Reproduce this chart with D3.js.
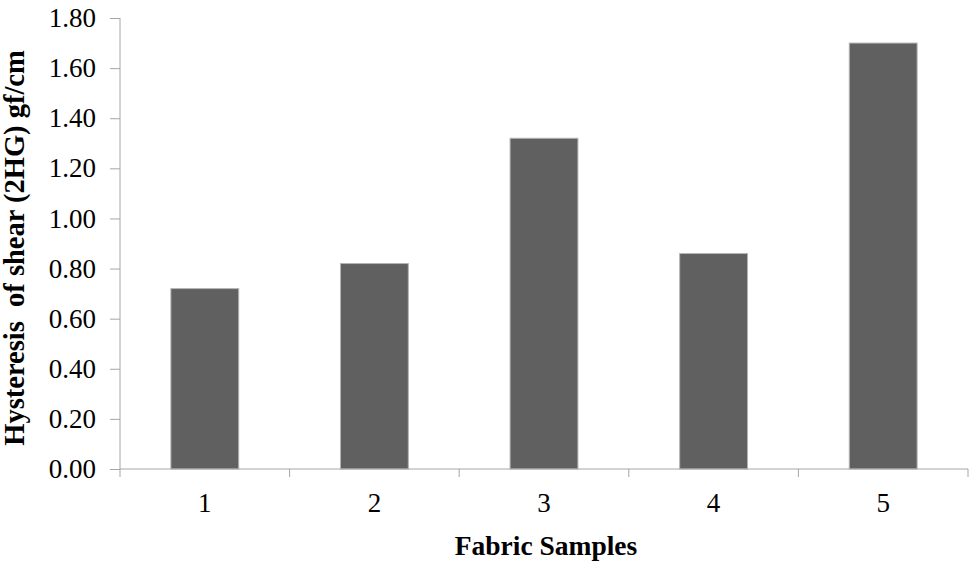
<!DOCTYPE html>
<html>
<head>
<meta charset="utf-8">
<script src="https://cdn.jsdelivr.net/npm/d3@7"></script>
<style>
  body { margin: 0; background: #fff; }
  text { font-family: "Liberation Serif", "Times New Roman", serif; }
</style>
</head>
<body>
<div id="chart"></div>
<script>
// chart data
var samples = ["1", "2", "3", "4", "5"];
var hysteresis = [0.72, 0.82, 1.32, 0.86, 1.70];
var yTicks = [0, 0.2, 0.4, 0.6, 0.8, 1.0, 1.2, 1.4, 1.6, 1.8];

var width = 969,
   height = 562,
   margin = { top: 18, right: 1, bottom: 93, left: 120 };

var innerW = width - margin.left - margin.right,
   innerH = height - margin.top - margin.bottom;

var svg = d3.select("#chart")
   .append("svg")
   .attr("width", width)
   .attr("height", height);

var g = svg.append("g")
   .attr("transform", "translate(" + margin.left + "," + margin.top + ")");

// scales
var x = d3.scaleBand()
   .domain(samples)
   .range([0, innerW])
   .paddingInner(0.6)
   .paddingOuter(0.3);

var y = d3.scaleLinear()
   .domain([0, 1.8])
   .range([innerH, 0]);

var axisColor = "#a6a6a6";

// Y axis
var yAxis = g.append("g")
   .call(d3.axisLeft(y).tickValues(yTicks).tickFormat(d3.format(".2f")).tickSize(10).tickPadding(14));
yAxis.select(".domain").attr("stroke", axisColor).attr("d", "M0,0V" + innerH);
yAxis.selectAll(".tick line").attr("stroke", axisColor).attr("x2", -10);
yAxis.selectAll("text")
   .attr("fill", "#000")
   .style("font-family", "Liberation Serif")
   .style("font-size", "27px");

// bars
g.selectAll("rect.bar")
   .data(hysteresis)
   .enter()
   .append("rect")
   .attr("class", "bar")
   .attr("x", function (d, i) { return x(samples[i]); })
   .attr("y", function (d) { return y(d); })
   .attr("width", x.bandwidth())
   .attr("height", function (d) { return y(0) - y(d); })
   .attr("fill", "#606060")
   .attr("stroke", "#b4b4b4")
   .attr("stroke-width", 1);

// X axis (ticks at category boundaries like Excel)
var xAxis = g.append("g")
   .attr("transform", "translate(0," + innerH + ")");
xAxis.append("line")
   .attr("x1", 0).attr("x2", innerW)
   .attr("stroke", axisColor);
var bounds = d3.range(samples.length + 1).map(function (i) { return i * x.step(); });
xAxis.selectAll("line.tk")
   .data(bounds)
   .enter()
   .append("line")
   .attr("class", "tk")
   .attr("x1", function (d) { return d; })
   .attr("x2", function (d) { return d; })
   .attr("y1", 0).attr("y2", 8)
   .attr("stroke", axisColor);
xAxis.selectAll("text.lbl")
   .data(samples)
   .enter()
   .append("text")
   .attr("class", "lbl")
   .attr("x", function (d) { return x(d) + x.bandwidth() / 2; })
   .attr("y", 43)
   .attr("text-anchor", "middle")
   .style("font-size", "27px")
   .text(function (d) { return d; });

// axis titles
svg.append("text")
   .attr("x", margin.left + innerW / 2 + 2)
   .attr("y", 555)
   .attr("text-anchor", "middle")
   .style("font-size", "27.5px")
   .style("font-weight", "bold")
   .text("Fabric Samples");

svg.append("text")
   .attr("transform", "translate(24,248) rotate(-90)")
   .attr("text-anchor", "middle")
   .style("font-size", "28.5px")
   .style("font-weight", "bold")
   .style("white-space", "pre")
   .text("Hysteresis  of shear (2HG) gf/cm");
</script>
</body>
</html>
